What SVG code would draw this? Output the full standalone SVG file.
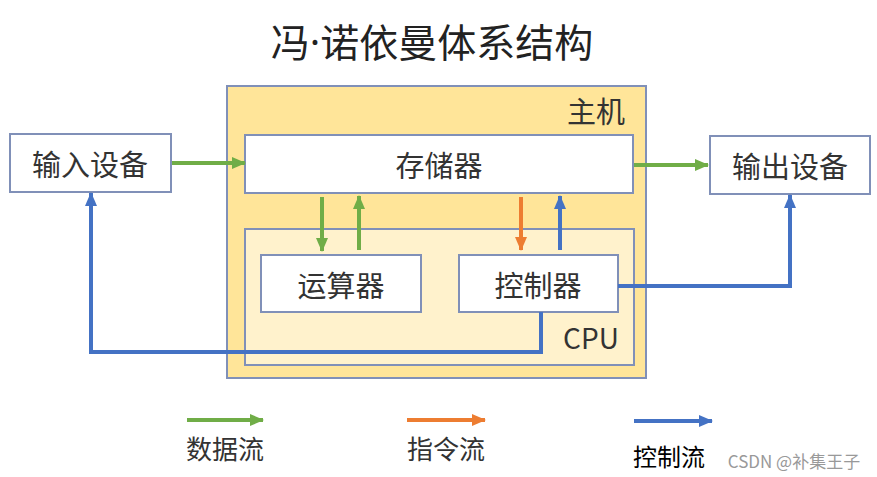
<svg xmlns="http://www.w3.org/2000/svg" width="877" height="477" viewBox="0 0 877 477">
<style>
text{font-family:"Noto Sans CJK SC","Noto Sans",sans-serif;fill:#333}
.box{fill:#fff;stroke:#8090B8;stroke-width:2}
.lbl{font-size:29px;text-anchor:middle;dominant-baseline:central}
.g{stroke:#70AD47;stroke-width:4;fill:none}
.o{stroke:#ED7D31;stroke-width:4;fill:none}
.b{stroke:#4472C4;stroke-width:4;fill:none}
</style>
<defs>
<marker id="ag" markerUnits="userSpaceOnUse" markerWidth="14" markerHeight="14" viewBox="0 0 14 14" refX="13" refY="7" orient="auto"><path d="M0,1 L14,7 L0,13 Z" fill="#70AD47"/></marker>
<marker id="ao" markerUnits="userSpaceOnUse" markerWidth="14" markerHeight="14" viewBox="0 0 14 14" refX="13" refY="7" orient="auto"><path d="M0,1 L14,7 L0,13 Z" fill="#ED7D31"/></marker>
<marker id="ab" markerUnits="userSpaceOnUse" markerWidth="14" markerHeight="14" viewBox="0 0 14 14" refX="13" refY="7" orient="auto"><path d="M0,1 L14,7 L0,13 Z" fill="#4472C4"/></marker>
</defs>
<rect width="877" height="477" fill="#fff"/>
<text x="432" y="40" font-size="39" text-anchor="middle" dominant-baseline="central" style="fill:#222">冯<tspan style="font-family:'Noto Sans',sans-serif">·</tspan>诺依曼体系结构</text>

<g id="host">
<rect x="227" y="86" width="419" height="292" fill="#FFE599" stroke="#8090B8" stroke-width="2"/>
<text x="596" y="110" font-size="29" text-anchor="middle" dominant-baseline="central">主机</text>
</g>
<g id="memory">
<rect class="box" x="245" y="135" width="388" height="58"/>
<text class="lbl" x="439" y="164">存储器</text>
</g>
<g id="cpu">
<rect x="245" y="229" width="389" height="136" fill="#FFF2CC" stroke="#8090B8" stroke-width="2"/>
<text x="591" y="337" font-size="28" text-anchor="middle" dominant-baseline="central">CPU</text>
</g>
<g id="alu">
<rect class="box" x="261" y="255" width="160" height="57"/>
<text class="lbl" x="341" y="284">运算器</text>
</g>
<g id="ctrl">
<rect class="box" x="459" y="255" width="159" height="57"/>
<text class="lbl" x="538" y="284">控制器</text>
</g>
<g id="input">
<rect class="box" x="10" y="134" width="161" height="58"/>
<text class="lbl" x="90" y="163">输入设备</text>
</g>
<g id="output">
<rect class="box" x="710" y="136" width="160" height="58"/>
<text class="lbl" x="790" y="165">输出设备</text>
</g>

<g id="connectors">
<line class="g" x1="172" y1="163" x2="245" y2="163" marker-end="url(#ag)"/>
<line class="g" x1="634" y1="165" x2="708" y2="165" marker-end="url(#ag)"/>
<line class="g" x1="322" y1="197" x2="322" y2="251" marker-end="url(#ag)"/>
<line class="g" x1="359" y1="250" x2="359" y2="196" marker-end="url(#ag)"/>
<line class="o" x1="521" y1="197" x2="521" y2="250" marker-end="url(#ao)"/>
<line class="b" x1="560" y1="250" x2="560" y2="196" marker-end="url(#ab)"/>
<polyline class="b" points="618,286 790,286 790,195" marker-end="url(#ab)"/>
<polyline class="b" points="541,312 541,352 91,352 91,193" marker-end="url(#ab)"/>
</g>

<g id="legend">
<line class="g" x1="187" y1="420" x2="263" y2="420" marker-end="url(#ag)"/>
<line class="o" x1="407" y1="420" x2="485" y2="420" marker-end="url(#ao)"/>
<line class="b" x1="634" y1="421" x2="712" y2="421" marker-end="url(#ab)"/>
<text x="225" y="447" font-size="26" text-anchor="middle" dominant-baseline="central">数据流</text>
<text x="446" y="447" font-size="26" text-anchor="middle" dominant-baseline="central">指令流</text>
<text x="669" y="455" font-size="24" text-anchor="middle" dominant-baseline="central" style="fill:#000">控制流</text>
<text x="794" y="460" font-size="17" text-anchor="middle" dominant-baseline="central" style="fill:#999">CSDN @补集王子</text>
</g>
</svg>
